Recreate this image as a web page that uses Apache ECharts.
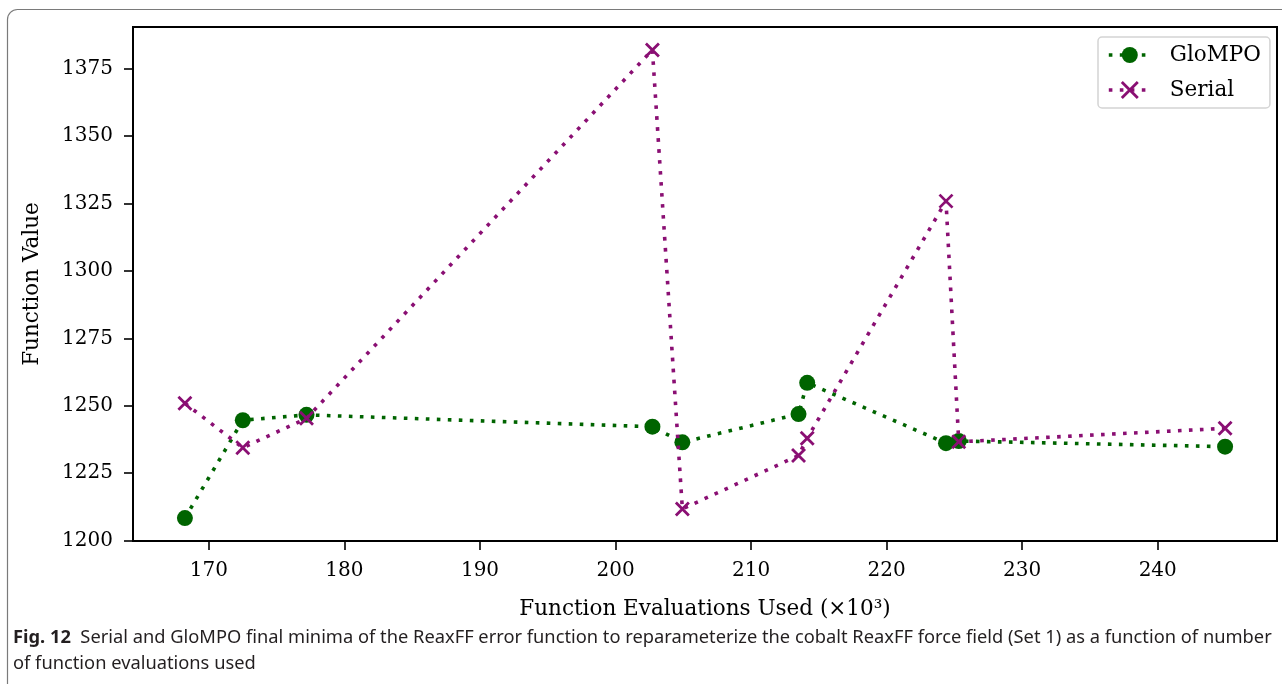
<!DOCTYPE html>
<html>
<head>
<meta charset="utf-8">
<script src="https://cdn.jsdelivr.net/npm/echarts@6/dist/echarts.min.js"></script>
<style>
  html, body { margin: 0; padding: 0; background: #fff; }
  #chart { width: 1282px; height: 684px; }
</style>
</head>
<body>
<div id="chart"></div>
<script>
// Function evaluations used (thousands) at which each run ended
const evaluations = [168.23, 172.5, 177.2, 202.72, 204.93, 213.5, 214.14, 224.38, 225.32, 244.97];
// Final minima found by each optimiser
const glompoValues = [1208.3, 1244.6, 1246.6, 1242.2, 1236.4, 1246.9, 1258.5, 1236.1, 1236.9, 1234.8];
const serialValues = [1250.9, 1234.4, 1245.3, 1382.0, 1211.7, 1231.5, 1237.9, 1325.9, 1236.6, 1241.6];
// Tick labels
const xTicks = [170, 180, 190, 200, 210, 220, 230, 240];
const yTicks = [1200, 1225, 1250, 1275, 1300, 1325, 1350, 1375];

const GREEN = '#006400';
const PURPLE = '#8a0f73';
const SERIF = '"DejaVu Serif", serif';
const CAPTION_FONT = '"Noto Sans", sans-serif';
const DOTS = [3.6, 7.4];

const pairs = (xs, ys) => xs.map((x, i) => [x, ys[i]]);
const crossPath = 'path://M0,0 L10,10 M10,0 L0,10';
const plain = v => String(v);

const chart = echarts.init(document.getElementById('chart'), null, { renderer: 'canvas' });

const axisCommon = {
  axisLine: { show: true, lineStyle: { color: '#000', width: 2 } },
  axisTick: { show: true, inside: false, length: 9, lineStyle: { color: '#000', width: 1.6 } },
  splitLine: { show: false },
  nameTextStyle: { fontFamily: SERIF, fontSize: 21.5, color: '#000' }
};

chart.setOption({
  animation: false,
  backgroundColor: '#fff',
  grid: {
    left: 133, right: 5, top: 27, bottom: 143,
    show: true, borderColor: '#000', borderWidth: 2, backgroundColor: 'transparent'
  },
  xAxis: Object.assign({}, axisCommon, {
    type: 'value',
    min: 164.4, max: 248.8,
    name: 'Function Evaluations Used (×10³)',
    nameLocation: 'middle', nameGap: 57,
    axisTick: Object.assign({}, axisCommon.axisTick, { customValues: xTicks }),
    axisLabel: { customValues: xTicks, formatter: plain, fontFamily: SERIF, fontSize: 20, color: '#000', margin: 20 }
  }),
  yAxis: Object.assign({}, axisCommon, {
    type: 'value',
    min: 1199.8, max: 1390.5,
    name: 'Function Value',
    nameLocation: 'middle', nameGap: 90, nameRotate: 90,
    axisTick: Object.assign({}, axisCommon.axisTick, { customValues: yTicks }),
    axisLabel: { customValues: yTicks, formatter: plain, fontFamily: SERIF, fontSize: 20, color: '#000', margin: 20 }
  }),
  legend: {
    left: 1098, top: 37,
    orient: 'vertical',
    padding: [7, 9, 7, 9],
    itemWidth: 42, itemHeight: 20, itemGap: 13,
    backgroundColor: '#fff',
    borderColor: '#d4d4d4', borderWidth: 1.5, borderRadius: 4,
    textStyle: { fontFamily: SERIF, fontSize: 21.5, color: '#000', padding: [0, 0, 0, 14] },
    data: [
      { name: 'GloMPO', itemStyle: { color: GREEN }, lineStyle: { color: GREEN, width: 3.6, type: DOTS, cap: 'butt' } },
      { name: 'Serial', itemStyle: { color: PURPLE, borderColor: PURPLE, borderWidth: 2.8 }, lineStyle: { color: PURPLE, width: 3.6, type: DOTS, cap: 'butt' } }
    ]
  },
  series: [
    {
      name: 'GloMPO', type: 'line',
      data: pairs(evaluations, glompoValues),
      symbol: 'circle', symbolSize: 16,
      itemStyle: { color: GREEN },
      lineStyle: { color: GREEN, width: 3.6, type: DOTS, cap: 'butt' },
      z: 2
    },
    {
      name: 'Serial', type: 'line',
      data: pairs(evaluations, serialValues),
      symbol: crossPath, symbolSize: 13,
      itemStyle: { color: PURPLE, borderColor: PURPLE, borderWidth: 2.8 },
      lineStyle: { color: PURPLE, width: 3.6, type: DOTS, cap: 'butt' },
      z: 3
    }
  ],
  graphic: [
    {
      type: 'rect', z: -10, silent: true,
      shape: { x: 7.5, y: 9.5, width: 1320, height: 720, r: 10 },
      style: { fill: 'none', stroke: '#7a7a7a', lineWidth: 1.2 }
    },
    {
      type: 'text', left: 13, top: 629,
      style: {
        text: '{b|Fig. 12}  Serial and GloMPO final minima of the ReaxFF error function to reparameterize the cobalt ReaxFF force field (Set 1) as a function of number',
        font: '18.3px ' + CAPTION_FONT, fill: '#231f20',
        rich: { b: { font: 'bold 18.3px ' + CAPTION_FONT, fill: '#231f20' } }
      }
    },
    {
      type: 'text', left: 13, top: 655,
      style: {
        text: 'of function evaluations used',
        font: '18.3px ' + CAPTION_FONT, fill: '#231f20'
      }
    }
  ]
});
</script>
</body>
</html>
